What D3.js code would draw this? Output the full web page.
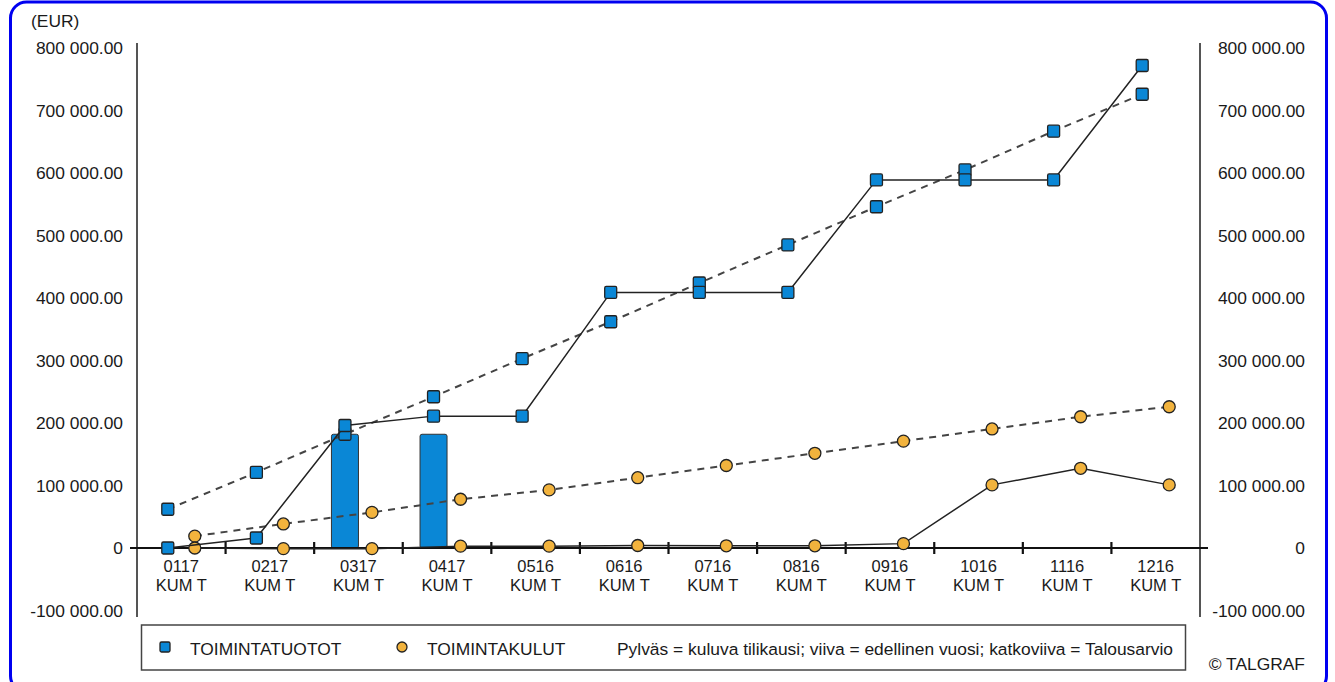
<!DOCTYPE html>
<html><head><meta charset="utf-8">
<script src="https://cdn.jsdelivr.net/npm/d3@7"></script>
<style>
html,body{margin:0;padding:0;background:#fff;}
text{font-family:"Liberation Sans",Arial,sans-serif;fill:#1a1a1a;}
</style></head>
<body>
<svg id="c" width="1335" height="682"></svg>
<script>
const categories = ["0117","0217","0317","0417","0516","0616","0716","0816","0916","1016","1116","1216"];
const catLine2 = "KUM T";
// current year (bars)
const tuototBars = [null,null,182000,182000,null,null,null,null,null,null,null,null];
// previous year (solid line)
const tuototPrev = [0,16000,196000,211000,211000,409000,409000,409000,589000,589000,589000,772000];
// budget (dashed line)
const tuototBudget = [62000,121000,182000,242000,303000,362000,424000,485000,546000,605000,667000,726000];
const kulutPrev = [0,-1000,-1000,3000,3000,4000,3500,3500,7000,101000,127500,101000];
const kulutBudget = [19000,38500,57000,78000,93000,112500,132000,151500,171000,190500,210000,226000];
const yTicks = [-100000,0,100000,200000,300000,400000,500000,600000,700000,800000];
const legendSeries = ["TOIMINTATUOTOT","TOIMINTAKULUT"];
const legendNote = "Pylväs = kuluva tilikausi; viiva = edellinen vuosi; katkoviiva = Talousarvio";

const BLUE="#0a87d6", ORANGE="#f2b33d";
const svg = d3.select("#c");
const FS = "17.4px";

// border
svg.append("rect").attr("x",10.5).attr("y",2).attr("width",1316).attr("height",690)
  .attr("rx",16).attr("fill","none").attr("stroke","#0000f0").attr("stroke-width",3);

const y = d3.scaleLinear().domain([-100000,800000]).range([610.5,48]);
const x = d3.scaleBand().domain(categories).range([137,1200]);
const x1 = d3.scaleBand().domain(["t","k"]).range([0,x.bandwidth()]).paddingOuter(0.64);

const fmt = v => v===0 ? "0" : d3.format(",.2f")(v).replace(/,/g," ").replace("\u2212","-");

// axes lines
svg.append("line").attr("x1",137).attr("x2",137).attr("y1",43).attr("y2",617).attr("stroke","#555").attr("stroke-width",2);
svg.append("line").attr("x1",1200).attr("x2",1200).attr("y1",43).attr("y2",617).attr("stroke","#555").attr("stroke-width",2);

// tick labels
const lt = svg.append("g");
yTicks.forEach(t=>{
  lt.append("text").attr("x",123).attr("y",y(t)).attr("dy","0.35em").attr("text-anchor","end").style("font-size",FS).text(fmt(t));
  lt.append("text").attr("x",1305).attr("y",y(t)).attr("dy","0.35em").attr("text-anchor","end").style("font-size",FS).text(fmt(t));
});
svg.append("text").attr("x",31).attr("y",21).attr("dy","0.35em").style("font-size",FS).text("(EUR)");

// bars
svg.append("g").selectAll("rect").data(categories.map((c,i)=>({c,v:tuototBars[i]})).filter(d=>d.v!=null))
  .join("rect")
  .attr("x",d=>x(d.c)+x1("t")).attr("width",x1.bandwidth())
  .attr("y",d=>y(d.v)).attr("height",d=>y(0)-y(d.v))
  .attr("rx",2).attr("fill",BLUE).attr("stroke","#333").attr("stroke-width",1);

// zero line and ticks
svg.append("line").attr("x1",130).attr("x2",1208).attr("y1",y(0)).attr("y2",y(0)).attr("stroke","#111").attr("stroke-width",1.8);
categories.forEach((c,i)=>{
  if(i===0) return;
  svg.append("line").attr("x1",x(c)).attr("x2",x(c)).attr("y1",y(0)-6).attr("y2",y(0)+6).attr("stroke","#111").attr("stroke-width",2.2);
});

// category labels
categories.forEach(c=>{
  const cx = x(c)+x.bandwidth()/2;
  svg.append("text").attr("x",cx).attr("y",566).attr("dy","0.35em").attr("text-anchor","middle").style("font-size","16.5px").text(c);
  svg.append("text").attr("x",cx).attr("y",585).attr("dy","0.35em").attr("text-anchor","middle").style("font-size","16.5px").text(catLine2);
});

const line = (key) => d3.line().x((d,i)=>x(categories[i])+x1(key)+x1.bandwidth()/2).y(d=>y(d));

function drawSeries(vals, key, dashed, marker){
  svg.append("path").datum(vals).attr("d",line(key)).attr("fill","none")
    .attr("stroke",dashed?"#444":"#222").attr("stroke-width",dashed?2:1.5)
    .attr("stroke-dasharray",dashed?"7,6":null);
  const g = svg.append("g");
  vals.forEach((v,i)=>{
    const cx = x(categories[i])+x1(key)+x1.bandwidth()/2, cy=y(v);
    if(marker==="sq") g.append("rect").attr("x",cx-6).attr("y",cy-6).attr("width",12).attr("height",12).attr("rx",1.5)
      .attr("fill",BLUE).attr("stroke","#222").attr("stroke-width",1.3);
    else g.append("circle").attr("cx",cx).attr("cy",cy).attr("r",6).attr("fill",ORANGE).attr("stroke","#222").attr("stroke-width",1.3);
  });
}
drawSeries(kulutBudget,"k",true,"ci");
drawSeries(kulutPrev,"k",false,"ci");
drawSeries(tuototBudget,"t",true,"sq");
drawSeries(tuototPrev,"t",false,"sq");

// legend
const lg = svg.append("g");
lg.append("rect").attr("x",141.5).attr("y",625).attr("width",1044).attr("height",45).attr("fill","#fff").attr("stroke","#444").attr("stroke-width",1.5);
lg.append("rect").attr("x",160).attr("y",642).attr("width",10).attr("height",10).attr("rx",1.5).attr("fill",BLUE).attr("stroke","#222").attr("stroke-width",1.3);
lg.append("text").attr("x",190).attr("y",649).attr("dy","0.35em").style("font-size",FS).text(legendSeries[0]);
lg.append("circle").attr("cx",402).attr("cy",647).attr("r",5).attr("fill",ORANGE).attr("stroke","#222").attr("stroke-width",1.3);
lg.append("text").attr("x",427).attr("y",649).attr("dy","0.35em").style("font-size",FS).text(legendSeries[1]);
lg.append("text").attr("x",617).attr("y",649).attr("dy","0.35em").style("font-size",FS).text(legendNote);

svg.append("text").attr("x",1305).attr("y",664).attr("dy","0.35em").attr("text-anchor","end").style("font-size",FS).text("© TALGRAF");
</script>
</body></html>
